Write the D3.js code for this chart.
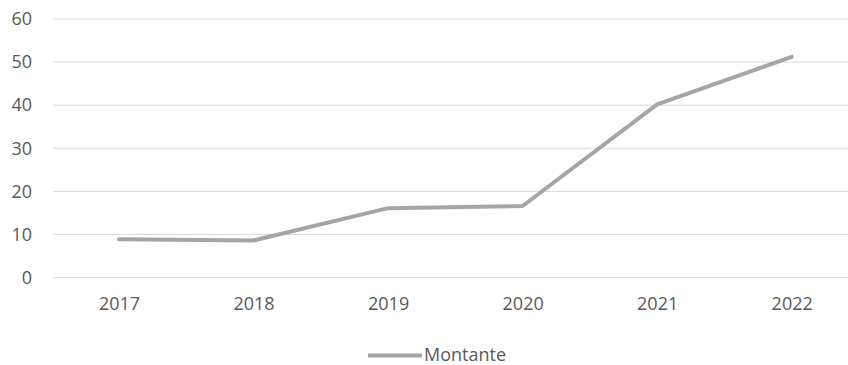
<!DOCTYPE html>
<html><head><meta charset="utf-8">
<script src="https://cdn.jsdelivr.net/npm/d3@7"></script>
<style>body{margin:0;background:#fff}svg{display:block}text{font-family:"Open Sans","Noto Sans",sans-serif;fill:#595959}</style>
</head><body><svg id="c" width="848" height="365"></svg>
<script>
const years = ["2017","2018","2019","2020","2021","2022"];
const montante = [8.9, 8.6, 16.1, 16.6, 40.2, 51.2];
const yTicks = [0,10,20,30,40,50,60];
const seriesName = "Montante";

const svg = d3.select("#c");
const x = d3.scalePoint().domain(years).range([119, 791.7]);
const y = d3.scaleLinear().domain([0,60]).range([277.5, 19]);
const fs = 18;

const g = svg.append("g");
g.selectAll("line.grid").data(yTicks).enter().append("line")
  .attr("x1", 53).attr("x2", 848)
  .attr("y1", d => y(d)).attr("y2", d => y(d))
  .attr("stroke", "#d9d9d9").attr("stroke-width", 1);

const yAxis = d3.axisLeft(y).tickValues(yTicks).tickSize(0).tickPadding(0);
const ya = svg.append("g").attr("transform","translate(32,0)").call(yAxis);
ya.select(".domain").remove();
ya.selectAll("text").attr("font-size", fs).style("fill","#595959").attr("font-family","Open Sans");

const xAxis = d3.axisBottom(x).tickSize(0).tickPadding(0);
const xa = svg.append("g").attr("transform","translate(0,297)").call(xAxis);
xa.select(".domain").remove();
xa.selectAll("text").attr("font-size", fs).style("fill","#595959").attr("font-family","Open Sans");

const line = d3.line().x((d,i) => x(years[i])).y(d => y(d));
svg.append("path").datum(montante).attr("d", line)
  .attr("fill","none").attr("stroke","#a5a5a5").attr("stroke-width",4)
  .attr("stroke-linejoin","round").attr("stroke-linecap","round");

const lg = svg.append("g");
lg.append("line").attr("x1",368).attr("x2",422).attr("y1",355.5).attr("y2",355.5)
  .attr("stroke","#a5a5a5").attr("stroke-width",4);
lg.append("text").attr("x",424).attr("y",361).attr("font-size",fs).text(seriesName);
</script></body></html>
